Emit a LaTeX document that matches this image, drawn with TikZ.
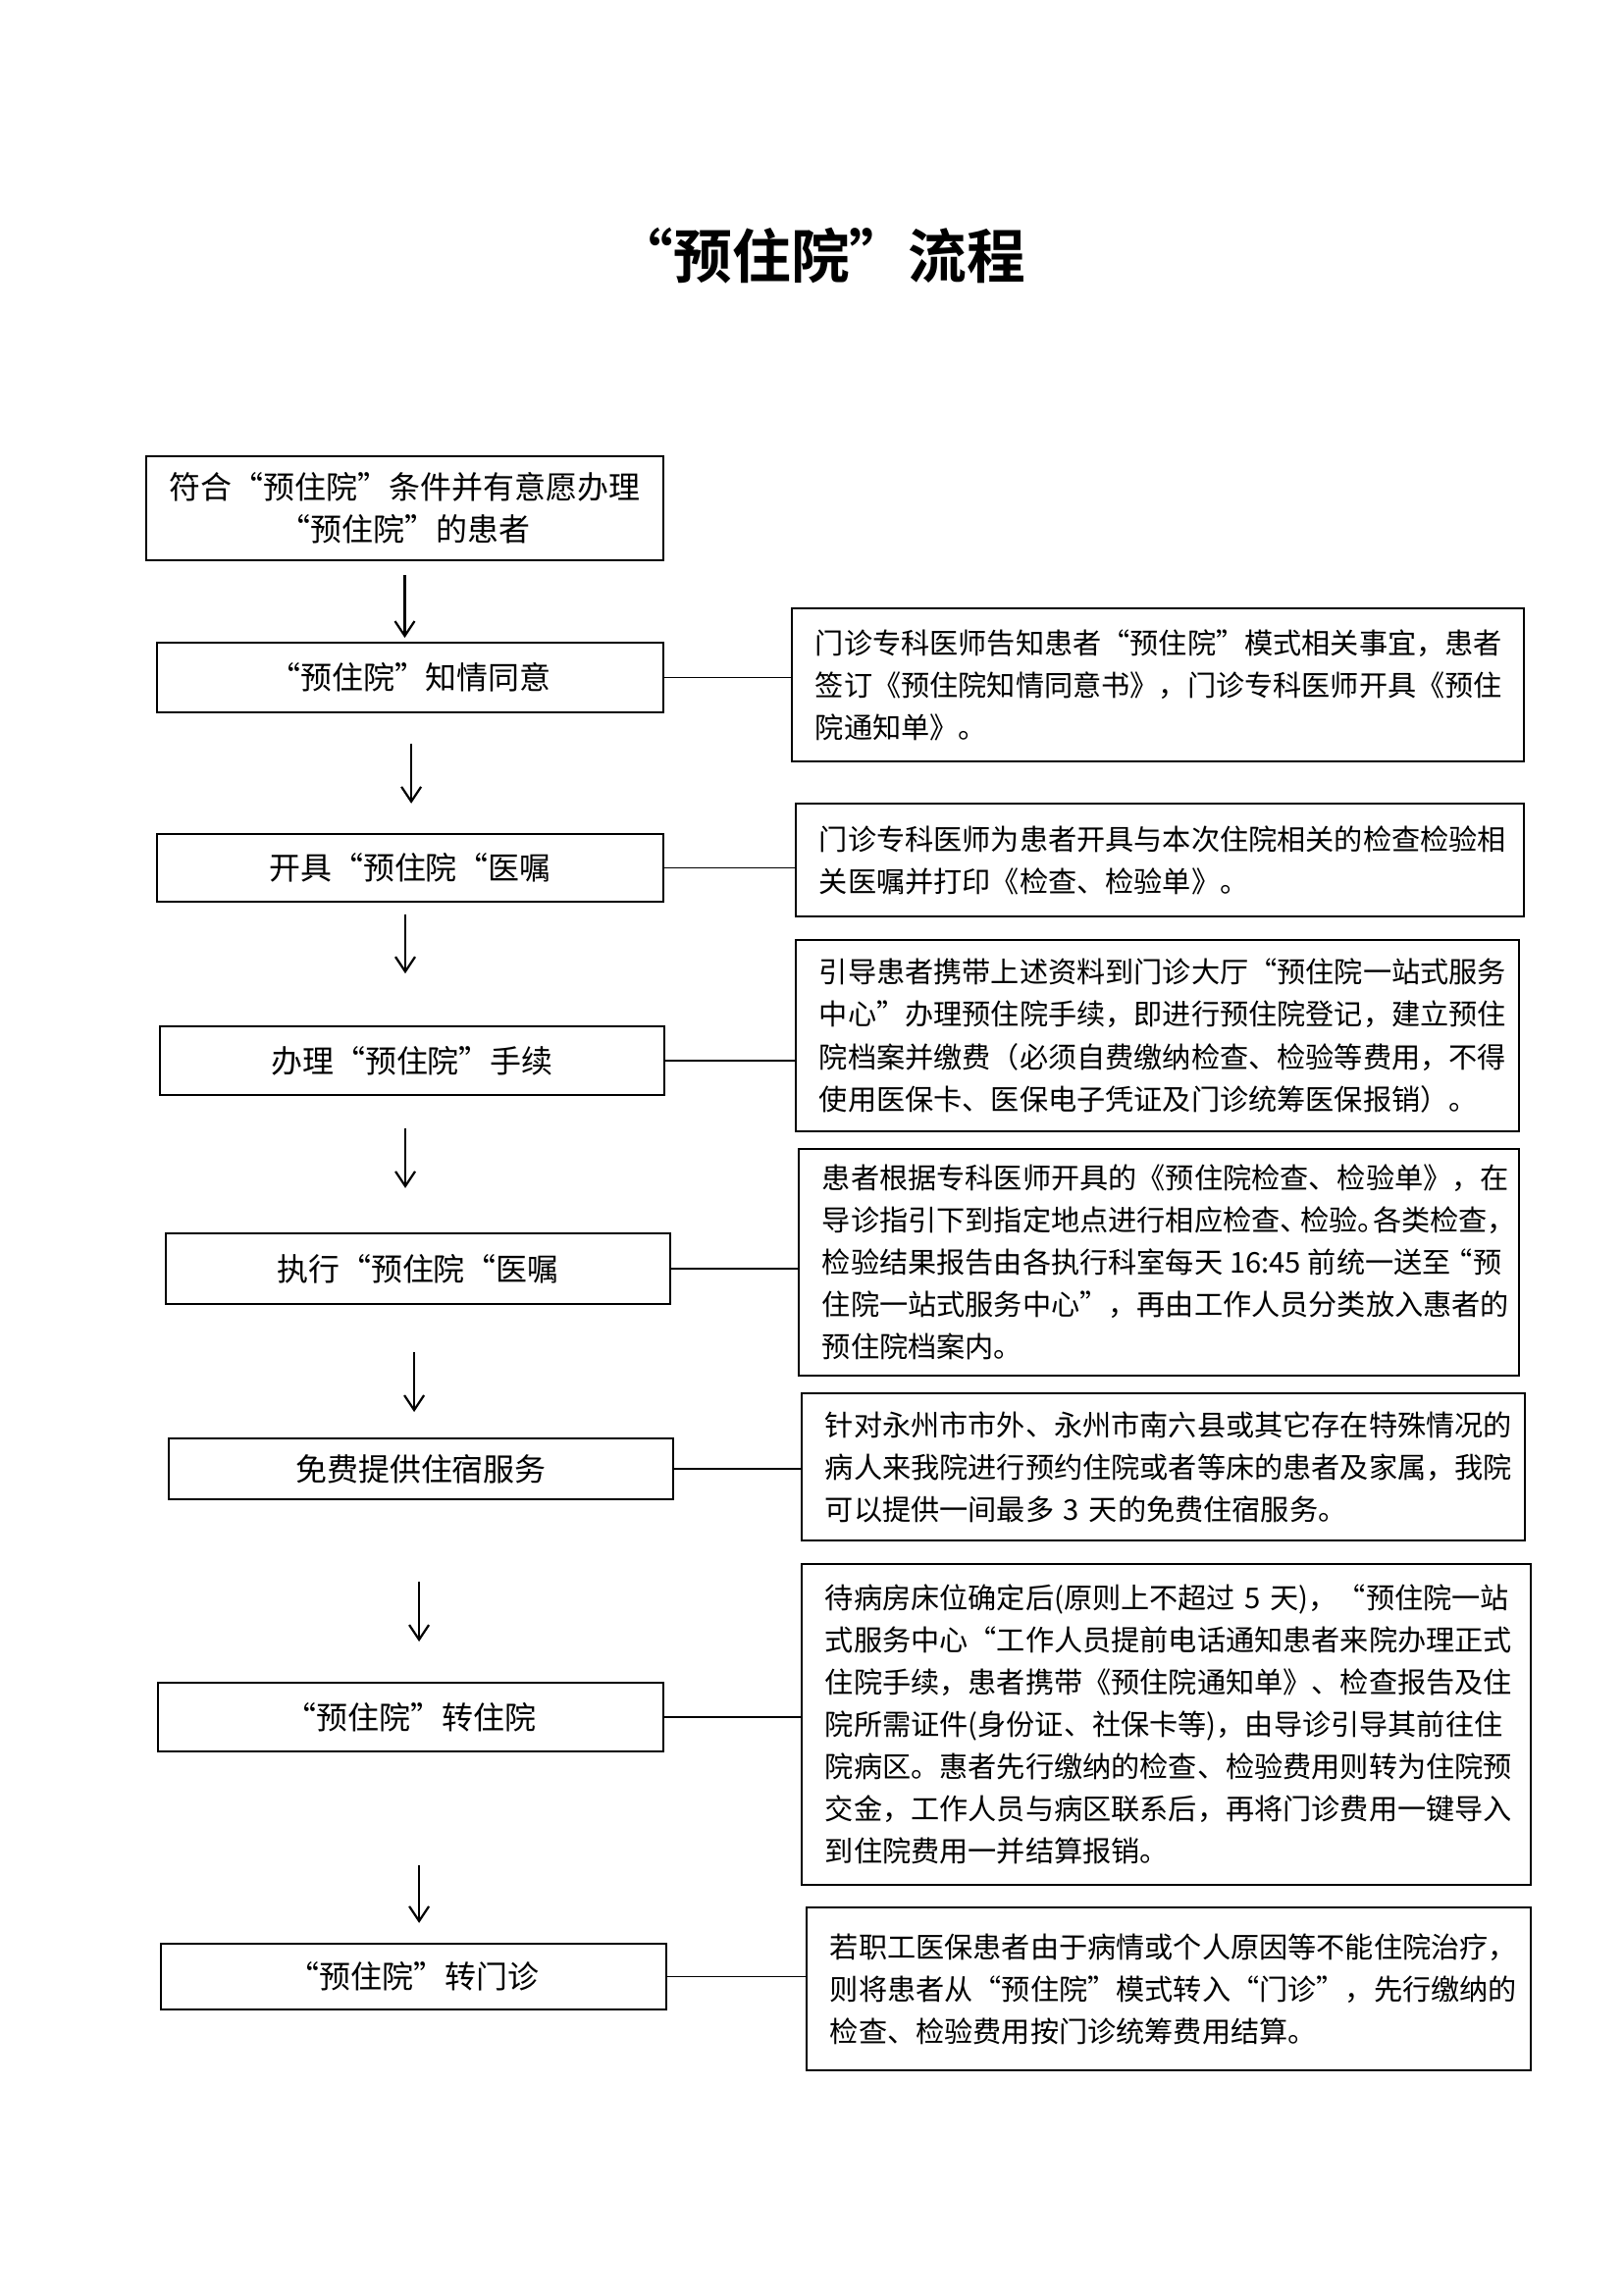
\documentclass[tikz,border=0pt]{standalone}
\usepackage{fontspec}
\setmainfont{Noto Sans CJK SC}
\newfontfamily\titlefont{Noto Sans CJK SC Bold}
\usetikzlibrary{arrows.meta}
\newcommand\nline[1]{\mbox{#1}}
\tikzset{
  box/.style={draw, line width=0.7pt, inner sep=0pt, outer sep=0pt, font=\fontsize{11.5}{15.5}\selectfont, align=center},
  note/.style={draw, line width=0.7pt, inner xsep=8.6pt, inner ysep=0pt, outer sep=0pt, font=\fontsize{10.5}{15.5}\selectfont, align=left},
  link/.style={line width=0.7pt},
  arr/.style={line width=0.8pt, -{Straight Barb[length=5.4pt,width=7.2pt,line width=0.8pt]}}
}
\begin{document}
\begin{tikzpicture}[x=0.36pt,y=-0.36pt]
\useasboundingbox[fill=white] (0,0) rectangle (1654,2339);
\node (title) at (836,261) {\titlefont\fontsize{21.5}{25}\selectfont “预住院”流程};

\node[box, minimum width=189.72pt, minimum height=38.16pt] (b1) at (412.5,518) {符合“预住院”条件并有意愿办理\\“预住院”的患者};
\node[box, minimum width=185.76pt, minimum height=25.56pt] (b2) at (418,690.5) {“预住院”知情同意};
\node[box, minimum width=185.76pt, minimum height=24.84pt] (b3) at (418,884.5) {开具“预住院“医嘱};
\node[box, minimum width=185.04pt, minimum height=25.2pt] (b4) at (420,1081) {办理“预住院”手续};
\node[box, minimum width=185.04pt, minimum height=25.92pt] (b5) at (426,1293) {执行“预住院“医嘱};
\node[box, minimum width=185.04pt, minimum height=22.32pt] (b6) at (429,1497) {免费提供住宿服务};
\node[box, minimum width=185.4pt, minimum height=25.2pt] (b7) at (418.5,1750) {“预住院”转住院};
\node[box, minimum width=185.4pt, minimum height=24.12pt] (b8) at (421.5,2014.5) {“预住院”转门诊};

\node[note, text width=251.36pt, minimum height=56.16pt] (n1) at (1180,698) {\nline{门诊专科医师告知患者“预住院”模式相关事宜，患者}\\\nline{签订《预住院知情同意书》，门诊专科医师开具《预住}\\\nline{院通知单》。}};
\node[note, text width=249.92pt, minimum height=41.4pt] (n2) at (1182,876.5) {\nline{门诊专科医师为患者开具与本次住院相关的检查检验相}\\\nline{关医嘱并打印《检查、检验单》。}};
\node[note, text width=248.12pt, minimum height=70.2pt] (n3) at (1179.5,1055.5) {\nline{引导患者携带上述资料到门诊大厅“预住院一站式服务}\\\nline{中心”办理预住院手续，即进行预住院登记，建立预住}\\\nline{院档案并缴费（必须自费缴纳检查、检验等费用，不得}\\\nline{使用医保卡、医保电子凭证及门诊统筹医保报销）。}};
\node[note, text width=247.04pt, minimum height=83.16pt] (n4) at (1181,1286.5) {\nline{患者根据专科医师开具的《预住院检查、检验单》，在}\\\nline{导诊指引下到指定地点进行相应检查、\hspace{-3pt}检验。\hspace{-5pt}各类检查，}\\\nline{检验结果报告由各执行科室每天\hspace{-1pt} 16:45\hspace{-1pt} 前统一送至\hspace{-2.5pt}“预}\\\nline{住院一站式服务中心”，再由工作人员分类放入惠者的}\\\nline{预住院档案内。}};
\node[note, text width=248.12pt, minimum height=54pt] (n5) at (1185.5,1495) {\nline{针对永州市市外、永州市南六县或其它存在特殊情况的}\\\nline{病人来我院进行预约住院或者等床的患者及家属，我院}\\\nline{可以提供一间最多 3 天的免费住宿服务。}};
\node[note, text width=250.28pt, minimum height=117.72pt] (n6) at (1188.5,1757.5) {\nline{待病房床位确定后(原则上不超过 5 天)，“预住院一站}\\\nline{式服务中心“工作人员提前电话通知患者来院办理正式}\\\nline{住院手续，患者携带《预住院通知单》、检查报告及住}\\\nline{院所需证件(身份证、社保卡等)，由导诊引导其前往住}\\\nline{院病区。惠者先行缴纳的检查、检验费用则转为住院预}\\\nline{交金，工作人员与病区联系后，再将门诊费用一键导入}\\\nline{到住院费用一并结算报销。}};
\node[note, text width=248.48pt, minimum height=59.76pt] (n7) at (1191,2027) {\nline{若职工医保患者由于病情或个人原因等不能住院治疗，}\\\nline{则将患者从“预住院”模式转入“门诊”，先行缴纳的}\\\nline{检查、检验费用按门诊统筹费用结算。}};

% side links
\draw[link] (b2.east) -- (b2.east -| n1.west);
\draw[link] (b3.east) -- (b3.east -| n2.west);
\draw[link] (b4.east) -- (b4.east -| n3.west);
\draw[link] (b5.east) -- (b5.east -| n4.west);
\draw[link] (b6.east) -- (b6.east -| n5.west);
\draw[link] (b7.east) -- (b7.east -| n6.west);
\draw[link] (b8.east) -- (b8.east -| n7.west);

% flow arrows
\draw[arr, shorten <=5.4pt, shorten >=1.8pt] (b1.south) -- (b1.south |- b2.north);
\draw[arr, shorten <=11.5pt, shorten >=11.2pt] ([xshift=0.4pt]b2.south) -- ([xshift=0.4pt]b2.south |- b3.north);
\draw[arr, shorten <=4.7pt, shorten >=19.4pt] ([xshift=-1.8pt]b3.south) -- ([xshift=-1.8pt]b3.south |- b4.north);
\draw[arr, shorten <=12.2pt, shorten >=16.6pt] ([xshift=-2.5pt]b4.south) -- ([xshift=-2.5pt]b4.south |- b5.north);
\draw[arr, shorten <=17.6pt, shorten >=9.7pt] ([xshift=-1.4pt]b5.south) -- ([xshift=-1.4pt]b5.south |- b6.north);
\draw[arr, shorten <=30.2pt, shorten >=15.1pt] ([xshift=-0.7pt]b6.south) -- ([xshift=-0.7pt]b6.south |- b7.north);
\draw[arr, shorten <=41.8pt, shorten >=7.6pt] ([xshift=3.1pt]b7.south) -- ([xshift=3.1pt]b7.south |- b8.north);
\end{tikzpicture}
\end{document}
